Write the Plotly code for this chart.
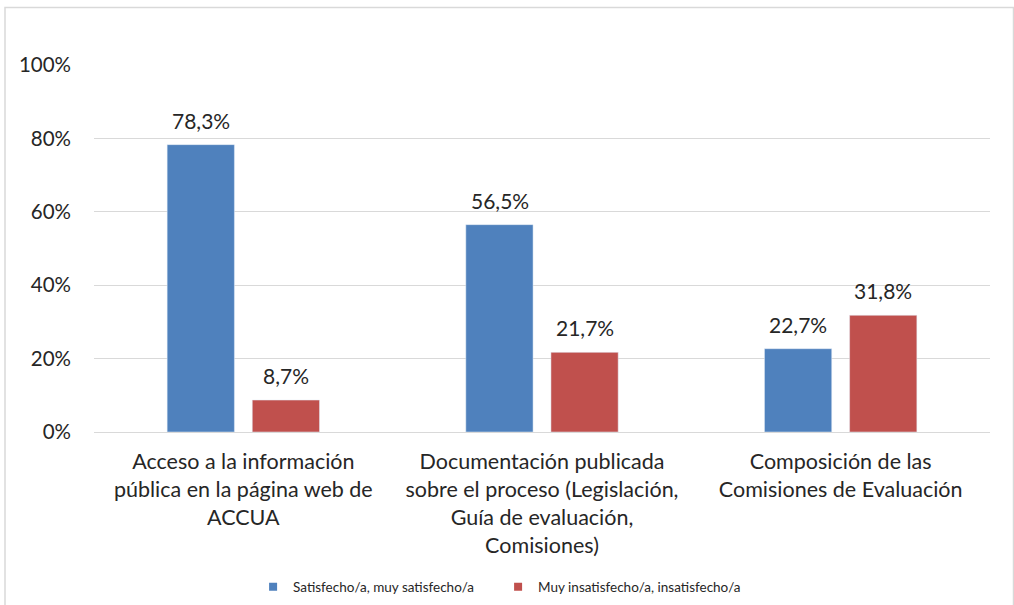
import plotly.graph_objects as go

categories = [
    "Acceso a la información<br>pública en la página web de<br>ACCUA",
    "Documentación publicada<br>sobre el proceso (Legislación,<br>Guía de evaluación,<br>Comisiones)",
    "Composición de las<br>Comisiones de Evaluación",
]
satisfecho = [78.3, 56.5, 22.7]
insatisfecho = [8.7, 21.7, 31.8]
series_names = ["Satisfecho/a, muy satisfecho/a", "Muy insatisfecho/a, insatisfecho/a"]
series_colors = ["#4f81bd", "#c0504d"]
tick_vals = [0, 20, 40, 60, 80, 100]
tick_text = ["0%", "20%", "40%", "60%", "80%", "100%"]

FONT = "Lato, Calibri, sans-serif"
TXT = "#262626"

def fmt(v):
    return f"{v:.1f}%".replace(".", ",")

fig = go.Figure()
for vals, name, col in [(satisfecho, series_names[0], series_colors[0]),
                        (insatisfecho, series_names[1], series_colors[1])]:
    fig.add_trace(go.Bar(
        x=categories, y=vals, name=name, showlegend=False,
        marker=dict(color=col),
    ))
# legend entries with small square swatches
for name, col in zip(series_names, series_colors):
    fig.add_trace(go.Scatter(
        x=[None], y=[None], mode="markers", name=name,
        marker=dict(symbol="square", size=8, color=col),
    ))

# data labels placed above each bar (offset to each bar slot)
annotations = []
for vals, dx in [(satisfecho, -42.5), (insatisfecho, 42.5)]:
    for cat, v in zip(categories, vals):
        annotations.append(dict(
            x=cat, y=v, xref="x", yref="y", text=fmt(v), showarrow=False,
            xshift=dx, yshift=10, yanchor="bottom", xanchor="center",
            font=dict(size=21, color=TXT, family=FONT),
        ))

fig.update_layout(
    width=1014, height=605,
    margin=dict(l=94, r=24, t=65, b=173, autoexpand=False),
    paper_bgcolor="white", plot_bgcolor="white",
    barmode="group", bargap=0.43, bargroupgap=0.21,
    font=dict(family=FONT, color=TXT),
    showlegend=True,
    annotations=annotations,
    legend=dict(orientation="h", xref="paper", x=0.451, xanchor="center",
                yref="container", y=1 - 587 / 605, yanchor="middle",
                font=dict(size=13.5, color=TXT), itemwidth=30,
                entrywidth=200, traceorder="normal"),
    xaxis=dict(showgrid=False, showline=True, linecolor="#d9d9d9", linewidth=1, automargin=False,
               tickfont=dict(size=21.5, color=TXT), ticks="", ticklabelstandoff=10),
    yaxis=dict(range=[0, 100], tickvals=tick_vals, ticktext=tick_text, automargin=False,
               showgrid=True, gridcolor="#d9d9d9", gridwidth=1, zeroline=False,
               tickfont=dict(size=20.5, color=TXT), ticks="", ticklabelstandoff=22),
    shapes=[dict(type="rect", xref="paper", yref="paper",
                 x0=(5 - 94) / 896, x1=(1013.5 - 94) / 896,
                 y0=(432 - 610) / 367, y1=(432 - 7.5) / 367,
                 line=dict(color="#d9d9d9", width=1.5), fillcolor="rgba(0,0,0,0)", layer="below")],
)

fig.write_html("out.html", config={"displayModeBar": False},
               post_script="document.body.style.margin='0px';")
